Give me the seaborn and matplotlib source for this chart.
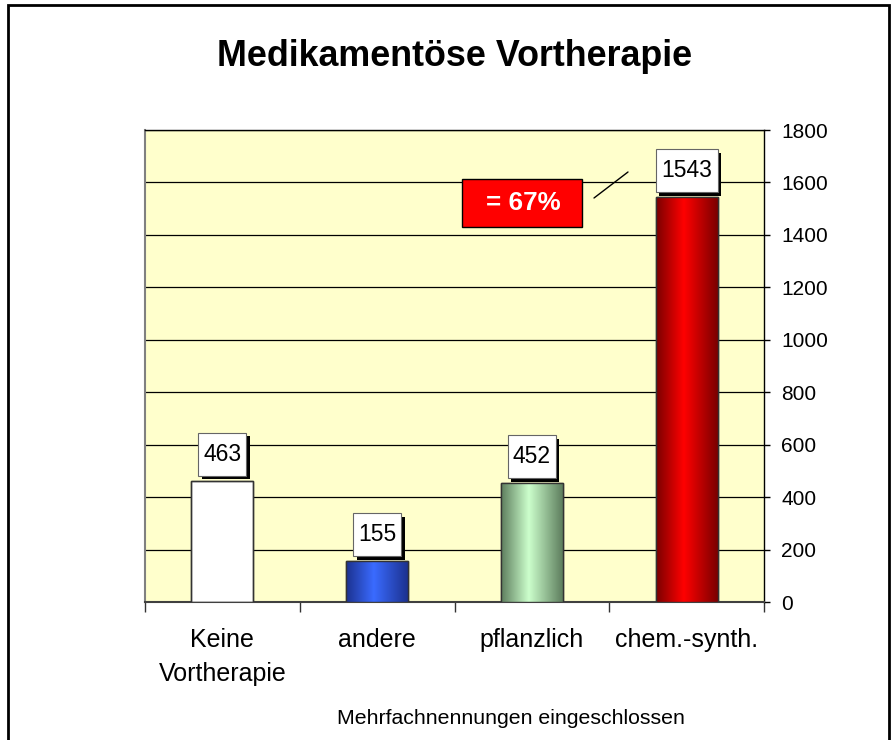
import matplotlib
matplotlib.use("Agg")
import matplotlib.pyplot as plt
import numpy as np
import pandas as pd
import seaborn as sns
from matplotlib.colors import LinearSegmentedColormap
from matplotlib.patches import Rectangle
from matplotlib import patheffects

categories = ["Keine\nVortherapie", "andere", "pflanzlich", "chem.-synth."]
counts = [463, 155, 452, 1543]
edge_colors = ["#ffffff", "#1c318f", "#5d7d5d", "#7a0000"]
center_colors = ["#ffffff", "#3a6bff", "#ccffcc", "#ff0000"]
yticks = list(range(0, 1801, 200))

sns.set_style("white")
plt.rcParams['font.family'] = ['Liberation Sans', 'DejaVu Sans']
plt.rcParams['text.color'] = 'black'
plt.rcParams['xtick.color'] = 'black'
plt.rcParams['ytick.color'] = 'black'
plt.rcParams['xtick.labelcolor'] = 'black'
plt.rcParams['ytick.labelcolor'] = 'black'

fig = plt.figure(figsize=(8.91, 7.4), dpi=100)
ax = fig.add_axes([145 / 891, 1 - 602 / 740, (764 - 145) / 891, 472 / 740])
ax.set_facecolor("#ffffcc")

df = pd.DataFrame({"kat": categories, "n": counts})
sns.barplot(df, x="kat", y="n", ax=ax, width=0.4, palette=center_colors,
            hue="kat", legend=False, edgecolor="#333333", linewidth=1, zorder=3)

# cylinder-like shading for the coloured bars
grad = np.linspace(0, 1, 256).reshape(1, -1)
for patch, c0, c1 in zip(ax.patches[:], edge_colors, center_colors):
    x0, y0 = patch.get_x(), patch.get_y()
    w, h = patch.get_width(), patch.get_height()
    if c0 != c1:
        cmap = LinearSegmentedColormap.from_list("cyl", [(0, c0), (0.45, c1), (1, c0)])
        im = ax.imshow(grad, cmap=cmap, extent=(x0, x0 + w, y0, y0 + h),
                       aspect="auto", zorder=3.5)
        im.set_clip_path(patch)
    ax.add_patch(Rectangle((x0, y0), w, h, fill=False, edgecolor="#333333",
                           lw=1, zorder=4))

# value boxes with shadow
px_per_cat = 619 / 4
px_per_unit = 472 / 1800
for i, v in enumerate(counts):
    s = str(v)
    bw = (14 * len(s) + 6) / px_per_cat
    bh = 43 / px_per_unit
    gap = 5 / px_per_unit
    box = Rectangle((i - bw / 2, v + gap), bw, bh, facecolor="white",
                    edgecolor="#666666", lw=0.8, zorder=5,
                    path_effects=[patheffects.SimplePatchShadow(offset=(2.5, -2.5), shadow_rgbFace="black", alpha=1),
                                  patheffects.Normal()])
    ax.add_patch(box)
    ax.text(i, v + gap + bh / 2, s, ha="center", va="center", fontsize=16.5, zorder=6)

ax.set_xlim(-0.5, 3.5)
ax.set_ylim(0, 1800)
ax.set_yticks(yticks)
ax.yaxis.tick_right()
ax.yaxis.grid(True, color="black", lw=0.9)
ax.set_axisbelow(True)
ax.set_xlabel("")
ax.set_ylabel("")
ax.set_xticks(range(len(categories)))
ax.set_xticklabels(categories, linespacing=1.5)
ax.set_xticks(np.arange(-0.5, len(categories), 1), minor=True)
ax.tick_params(axis="x", which="major", length=0, pad=19, labelsize=18)
ax.tick_params(axis="x", which="minor", length=7, width=1, color="#333333", bottom=True)
ax.tick_params(axis="y", direction="out", length=4.5, width=1, color="black",
               pad=8, labelsize=15, right=True, left=False)

for side, col, lw in [("left", "#808080", 1.5), ("right", "black", 1),
                      ("bottom", "#404040", 1.5), ("top", "black", 1)]:
    ax.spines[side].set_visible(True)
    ax.spines[side].set_color(col)
    ax.spines[side].set_linewidth(lw)

# red share callout
ax.add_patch(Rectangle(((462 - 145) / 619, (602 - 227) / 472), 120 / 619, 48 / 472,
                       transform=ax.transAxes, facecolor="#ff0000", edgecolor="black",
                       lw=1, zorder=6))
ax.text((523 - 145) / 619, (602 - 203) / 472, "= 67%", transform=ax.transAxes,
        ha="center", va="center", color="white", fontsize=18.7, fontweight="bold", zorder=7)
ax.plot([(594 - 145) / 619, (628 - 145) / 619], [(602 - 198) / 472, (602 - 172) / 472],
        transform=ax.transAxes, color="black", lw=1, zorder=6)

fig.text(455 / 891, 1 - 56 / 740, "Medikamentöse Vortherapie", ha="center", va="center",
         fontsize=25.8, fontweight="bold")
fig.text(511 / 891, 1 - 718 / 740, "Mehrfachnennungen eingeschlossen", ha="center",
         va="center", fontsize=15.3)

fig.add_artist(Rectangle((8 / 891, -0.05), (889 - 8) / 891, 1.05 - 5 / 740,
                         transform=fig.transFigure, fill=False, lw=2, edgecolor="black"))

fig.savefig("out.png", dpi=100)
